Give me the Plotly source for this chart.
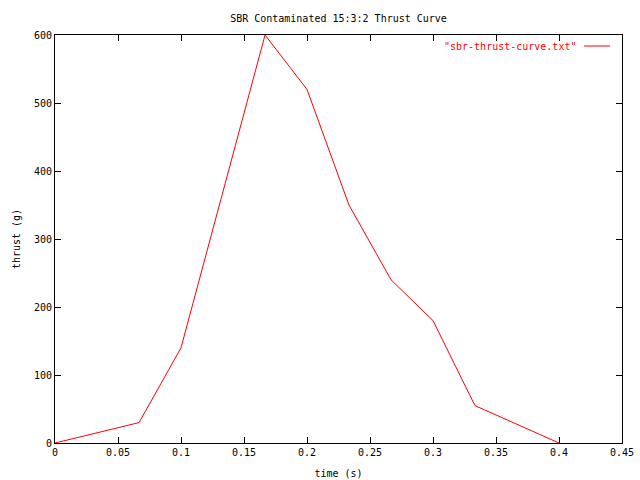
import plotly.graph_objects as go

time_s = [0.0, 0.0667, 0.1, 0.1333, 0.1667, 0.2, 0.2333, 0.2667, 0.3, 0.3333, 0.3667, 0.4]
thrust_g = [0, 30, 140, 370, 600, 520, 350, 240, 180, 55, 28, 0]
x_ticks = [0, 0.05, 0.1, 0.15, 0.2, 0.25, 0.3, 0.35, 0.4, 0.45]
x_tick_text = ["0", "0.05", "0.1", "0.15", "0.2", "0.25", "0.3", "0.35", "0.4", "0.45"]
y_ticks = [0, 100, 200, 300, 400, 500, 600]

FONT = "DejaVu Sans Mono"

fig = go.Figure()
fig.add_trace(go.Scatter(x=time_s, y=thrust_g, mode="lines",
                         line=dict(color="red", width=1), showlegend=False))

axis_common = dict(showgrid=False, zeroline=False, showline=True, linecolor="black",
                   linewidth=1, mirror="ticks", ticks="inside", ticklen=6,
                   tickcolor="black", automargin=False,
                   tickfont=dict(family=FONT, size=10, color="black"))

fig.update_xaxes(range=[0, 0.45], tickvals=x_ticks, ticktext=x_tick_text,
                 title=dict(text="time (s)", font=dict(family=FONT, size=10, color="black"), standoff=12),
                 **axis_common)
fig.update_yaxes(range=[0, 600], tickvals=y_ticks,
                 title=dict(text="thrust (g)", font=dict(family=FONT, size=10, color="black"), standoff=11),
                 **axis_common)

fig.add_annotation(x=0.922, y=0.973, xref="paper", yref="paper", xanchor="right", yanchor="middle",
                   text='"sbr-thrust-curve.txt"', showarrow=False,
                   font=dict(family=FONT, size=10, color="red"))
fig.add_shape(type="line", xref="paper", yref="paper", x0=0.933, x1=0.979, y0=0.973, y1=0.973,
              line=dict(color="red", width=1))

fig.update_layout(
    width=640, height=480,
    margin=dict(l=55, r=18, t=35, b=37, autoexpand=False),
    paper_bgcolor="white", plot_bgcolor="white",
    title=dict(text="SBR Contaminated 15:3:2 Thrust Curve", xref="paper", x=0.5, xanchor="center",
               y=1 - 18 / 480, yanchor="middle",
               font=dict(family=FONT, size=10, color="black")),
    font=dict(family=FONT, size=10, color="black"),
    hovermode=False,
)

fig.write_html("out.html", config={"displayModeBar": False},
               post_script="document.body.style.margin='0';")
